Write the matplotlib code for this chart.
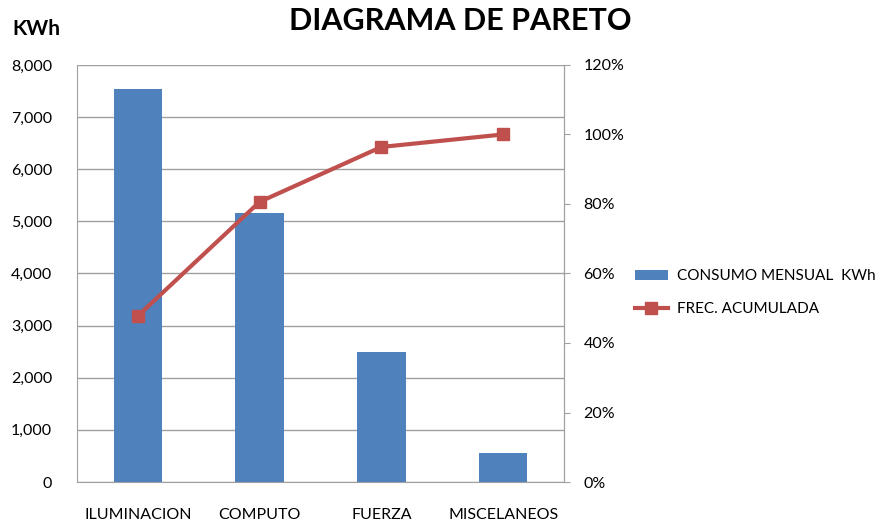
import numpy as np
import matplotlib.pyplot as plt
from matplotlib.ticker import FuncFormatter

plt.rcParams['font.family'] = ['Lato', 'DejaVu Sans']

categorias = ["ILUMINACION", "COMPUTO", "FUERZA", "MISCELANEOS"]
consumo_kwh = [7530, 5160, 2500, 560]
frec_acumulada = [47.8, 80.6, 96.4, 100.0]

azul = "#4F81BD"
rojo = "#C0504D"
gris = "#A0A0A0"

fig = plt.figure(figsize=(8.87, 5.22), dpi=100)
ax = fig.add_axes([0.0868, 0.0766, 0.549, 0.799])
x = np.arange(len(categorias))

ax.bar(x, consumo_kwh, width=0.4, color=azul, label="CONSUMO MENSUAL  KWh", zorder=2)
ax.set_xlim(-0.5, 3.5)
ax.set_ylim(0, 8000)
ax.set_yticks(np.arange(0, 8001, 1000))
ax.yaxis.set_major_formatter(FuncFormatter(lambda v, p: f"{int(v):,}"))
ax.grid(axis="y", color=gris, lw=1, zorder=0)
ax.set_xticks(x)
ax.set_xticklabels(categorias)
ax.tick_params(axis="both", length=0, labelsize=11.5, colors="black")
ax.tick_params(axis="x", pad=19)
ax.tick_params(axis="y", pad=18)
for s in ax.spines.values():
    s.set_color(gris)
ax.spines["top"].set_visible(False)

ax2 = ax.twinx()
ax2.plot(x, frec_acumulada, color=rojo, lw=3, marker="s", markersize=9,
         label="FREC. ACUMULADA", zorder=3)
ax2.set_ylim(0, 120)
ax2.set_yticks(np.arange(0, 121, 20))
ax2.yaxis.set_major_formatter(FuncFormatter(lambda v, p: f"{int(v)}%"))
ax2.tick_params(axis="y", length=4, color=gris, labelsize=11.5, pad=10)
for s in ax2.spines.values():
    s.set_visible(False)
ax2.spines["right"].set_visible(True)
ax2.spines["right"].set_color(gris)

h1, l1 = ax.get_legend_handles_labels()
h2, l2 = ax2.get_legend_handles_labels()
fig.legend(h1 + h2, l1 + l2, loc="center left", bbox_to_anchor=(0.7, 0.439),
           frameon=False, fontsize=11, handlelength=2.2, labelspacing=1.25,
           handletextpad=0.6)

fig.text(0.519, 0.96, "DIAGRAMA DE PARETO", ha="center", va="center",
         fontsize=22, fontweight="bold")
fig.text(0.014, 0.945, "KWh", ha="left", va="center", fontsize=15, fontweight="bold")

fig.savefig("out.png", dpi=100)
